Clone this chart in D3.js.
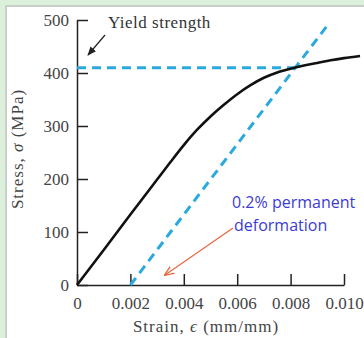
<!DOCTYPE html>
<html>
<head>
<meta charset="utf-8">
<style>
  body { margin: 0; background: #dcf0dc; }
  svg { display: block; }
  .axis path, .axis line { stroke: #222; stroke-width: 1.5px; }
  .axis text { font: 17px "Liberation Serif", serif; fill: #444; }
</style>
<script src="https://d3js.org/d3.v7.min.js"></script>
</head>
<body>
<svg width="364" height="338"></svg>
<script>
// stress-strain curve (strain in mm/mm, stress in MPa)
var strain = [0, 0.001, 0.002, 0.003, 0.0035, 0.004, 0.0045, 0.005, 0.0055, 0.006, 0.0065, 0.007, 0.0075, 0.008, 0.0085, 0.009, 0.0095, 0.010, 0.0106];
var stress = [0, 66, 133, 199, 232, 264, 293, 318, 340, 360, 377, 391, 401, 408, 414, 419, 424, 428, 432];

// 0.2% offset line and yield strength
var offsetLine = [[0.002, 0], [0.00944, 494]];
var yieldStrength = 410;
var yieldStrain = 0.00817;

var xTicks = [0, 0.002, 0.004, 0.006, 0.008, 0.010];
var yTicks = [0, 100, 200, 300, 400, 500];

var svg = d3.select("svg");

// white panel with grey edge
svg.append("rect").attr("x", 5).attr("y", 5).attr("width", 359).attr("height", 333).attr("fill", "#c9cfc9");
svg.append("rect").attr("x", 7).attr("y", 7).attr("width", 357).attr("height", 331).attr("fill", "#fff");

var x = d3.scaleLinear().domain([0, 0.010]).range([77, 344]);
var y = d3.scaleLinear().domain([0, 500]).range([285, 20]);

svg.append("defs").append("marker")
  .attr("id", "blk").attr("viewBox", "0 0 10 10").attr("refX", 9).attr("refY", 5)
  .attr("markerWidth", 9).attr("markerHeight", 9).attr("markerUnits", "userSpaceOnUse")
  .attr("orient", "auto")
  .append("path").attr("d", "M0,1L10,5L0,9z").attr("fill", "#222");
svg.select("defs").append("marker")
  .attr("id", "red").attr("viewBox", "0 0 10 10").attr("refX", 9).attr("refY", 5)
  .attr("markerWidth", 10).attr("markerHeight", 10).attr("markerUnits", "userSpaceOnUse")
  .attr("orient", "auto")
  .append("path").attr("d", "M0,1L10,5L0,9").attr("fill", "none").attr("stroke", "#e8653f").attr("stroke-width", 1.3);

// axes
svg.append("g").attr("class", "axis")
  .attr("transform", "translate(0,285)")
  .call(d3.axisBottom(x).tickValues(xTicks).tickSize(-11).tickSizeOuter(0).tickPadding(12)
    .tickFormat(function(d) { return d === 0 ? "0" : d3.format(".3f")(d); }));
svg.append("g").attr("class", "axis")
  .attr("transform", "translate(77,0)")
  .call(d3.axisLeft(y).tickValues(yTicks).tickSize(-11).tickSizeOuter(0).tickPadding(8));
svg.selectAll(".axis .domain").attr("stroke", "#222");

// dashed construction lines
var blue = "#29a9de";
svg.append("line")
  .attr("x1", x(0)).attr("y1", y(yieldStrength))
  .attr("x2", x(yieldStrain)).attr("y2", y(yieldStrength))
  .attr("stroke", blue).attr("stroke-width", 3).attr("stroke-dasharray", "9,6");
svg.append("line")
  .attr("x1", x(offsetLine[0][0])).attr("y1", y(offsetLine[0][1]))
  .attr("x2", x(offsetLine[1][0])).attr("y2", y(offsetLine[1][1]))
  .attr("stroke", blue).attr("stroke-width", 3).attr("stroke-dasharray", "9,6");

// curve
var pts = strain.map(function(s, i) { return [s, stress[i]]; });
svg.append("path")
  .datum(pts)
  .attr("fill", "none").attr("stroke", "#111").attr("stroke-width", 2.6)
  .attr("d", d3.line().x(function(d) { return x(d[0]); }).y(function(d) { return y(d[1]); }).curve(d3.curveMonotoneX));

// axis titles
var serif = "'Liberation Serif', serif";
var xt = svg.append("text").attr("x", 206).attr("y", 332).attr("text-anchor", "middle")
  .style("font", "17px " + serif).style("letter-spacing", "1px").attr("fill", "#444");
xt.append("tspan").text("Strain, ");
xt.append("tspan").attr("font-style", "italic").text("\u03F5");
xt.append("tspan").text(" (mm/mm)");

var yt = svg.append("text").attr("transform", "translate(23,149) rotate(-90)").attr("text-anchor", "middle")
  .style("font", "17px " + serif).style("letter-spacing", "1px").attr("fill", "#444");
yt.append("tspan").text("Stress, ");
yt.append("tspan").attr("font-style", "italic").text("\u03C3");
yt.append("tspan").text(" (MPa)");

// annotations
svg.append("text").attr("x", 108).attr("y", 28).text("Yield strength")
  .style("font", "17px " + serif).style("letter-spacing", "0.5px").attr("fill", "#333");
svg.append("line").attr("x1", 105).attr("y1", 35).attr("x2", 88).attr("y2", 55)
  .attr("stroke", "#222").attr("stroke-width", 1.2).attr("marker-end", "url(#blk)");

svg.append("text").attr("x", 232).attr("y", 208).text("0.2% permanent")
  .style("font", "16px 'Open Sans', sans-serif").attr("fill", "#3c3cd4");
svg.append("text").attr("x", 234).attr("y", 231).text("deformation")
  .style("font", "16px 'Open Sans', sans-serif").attr("fill", "#3c3cd4");
svg.append("line").attr("x1", 233).attr("y1", 228).attr("x2", 165).attr("y2", 275)
  .attr("stroke", "#e8653f").attr("stroke-width", 1.2).attr("marker-end", "url(#red)");
</script>
</body>
</html>
